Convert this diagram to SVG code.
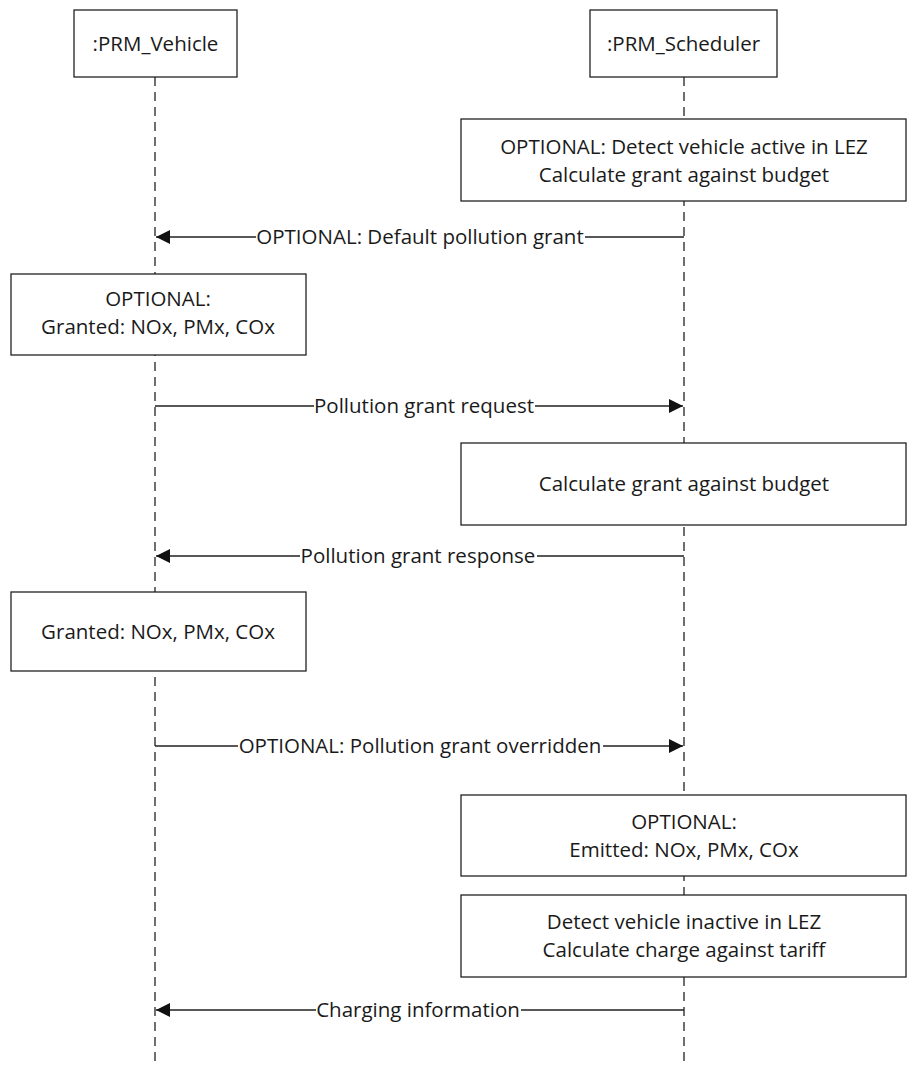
<svg xmlns="http://www.w3.org/2000/svg" width="907" height="1066" viewBox="0 0 907 1066">
<defs>
<style>
.box{fill:#fff;stroke:#222;stroke-width:1.3}
.life{stroke:#222;stroke-width:1.3;stroke-dasharray:9,6;fill:none}
.msg{stroke:#222;stroke-width:1.3;fill:none}
text{font-family:"Open Sans","Noto Sans",sans-serif;font-size:20.5px;fill:#1a1a1a;text-anchor:middle}
</style>
<marker id="ah" viewBox="0 0 10 10" refX="10" refY="5" markerWidth="14" markerHeight="14" markerUnits="userSpaceOnUse" orient="auto">
<path d="M0,0 L10,5 L0,10 z" fill="#111"/>
</marker>
</defs>
<rect width="907" height="1066" fill="#fff"/>
<g id="lifelines">
<line class="life" x1="155" y1="77" x2="155" y2="1066"/>
<line class="life" x1="684" y1="77" x2="684" y2="1066"/>
</g>
<g id="vehicle"><rect class="box" x="74" y="10" width="163" height="67"/><text x="155.5" y="51">:PRM_Vehicle</text></g>
<g id="scheduler"><rect class="box" x="590" y="10" width="187" height="67"/><text x="683.5" y="51">:PRM_Scheduler</text></g>
<g id="act1"><rect class="box" x="461" y="119" width="445" height="82"/><text x="684" y="154">OPTIONAL: Detect vehicle active in LEZ</text><text x="684" y="182">Calculate grant against budget</text></g>
<g id="act2"><rect class="box" x="11" y="274" width="295" height="81"/><text x="158" y="306">OPTIONAL:</text><text x="158" y="334">Granted: NOx, PMx, COx</text></g>
<g id="act3"><rect class="box" x="461" y="443" width="445" height="82"/><text x="684" y="491">Calculate grant against budget</text></g>
<g id="act4"><rect class="box" x="11" y="592" width="295" height="79"/><text x="158" y="639">Granted: NOx, PMx, COx</text></g>
<g id="act5"><rect class="box" x="461" y="795" width="445" height="81"/><text x="684" y="829">OPTIONAL:</text><text x="684" y="857">Emitted: NOx, PMx, COx</text></g>
<g id="act6"><rect class="box" x="461" y="895" width="445" height="82"/><text x="684" y="929">Detect vehicle inactive in LEZ</text><text x="684" y="957">Calculate charge against tariff</text></g>
<g id="connectors">
<path class="msg" d="M684,237 H585 M256,237 H156" marker-end="url(#ah)"/>
<text x="420" y="244">OPTIONAL: Default pollution grant</text>
<path class="msg" d="M155,406 H314 M535,406 H683" marker-end="url(#ah)"/>
<text x="424" y="413">Pollution grant request</text>
<path class="msg" d="M684,556 H537 M300,556 H156" marker-end="url(#ah)"/>
<text x="418" y="563">Pollution grant response</text>
<path class="msg" d="M155,746 H238 M603,746 H683" marker-end="url(#ah)"/>
<text x="420" y="753">OPTIONAL: Pollution grant overridden</text>
<path class="msg" d="M684,1010 H521 M316,1010 H156" marker-end="url(#ah)"/>
<text x="418" y="1017">Charging information</text>
</g>
</svg>
